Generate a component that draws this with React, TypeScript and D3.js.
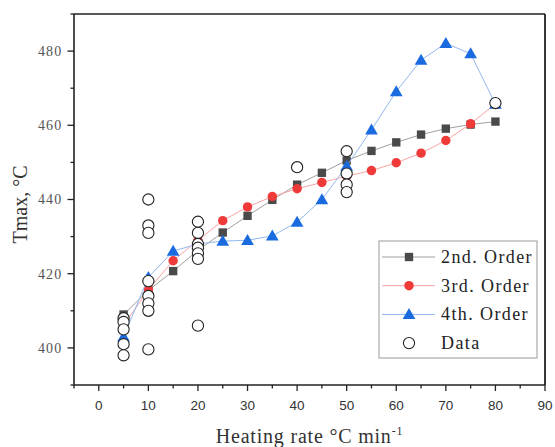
import React, { useRef, useEffect } from 'react';
import * as d3 from 'd3';

const rates = [5, 10, 15, 20, 25, 30, 35, 40, 45, 50, 55, 60, 65, 70, 75, 80];
const order2 = [409.0, 415.5, 420.7, 426.3, 431.1, 435.6, 439.9, 444.0, 447.2, 450.5, 453.1, 455.4, 457.5, 459.1, 460.2, 461.0];
const order3 = [406.0, 415.7, 423.5, 429.0, 434.3, 438.0, 440.8, 442.9, 444.6, 446.3, 447.8, 449.9, 452.5, 455.9, 460.4, 465.8];
const order4 = [403.0, 419.0, 426.1, 428.0, 428.8, 429.0, 430.2, 433.9, 440.0, 449.0, 458.8, 469.1, 477.6, 482.1, 479.3, 465.7];

const dataX = [5, 5, 5, 5, 5, 10, 10, 10, 10, 10, 10, 10, 10, 20, 20, 20, 20, 20, 20, 20, 40, 50, 50, 50, 50, 80];
const dataY = [408, 407, 405, 401, 398, 440, 433, 431, 418, 414, 412, 410, 399.6, 434, 431, 428, 427, 425.5, 424, 406, 448.7, 453, 447, 444, 442, 466];

const xTicks = [0, 10, 20, 30, 40, 50, 60, 70, 80, 90];
const yTicks = [400, 420, 440, 460, 480];
const legendLabels = ['2nd. Order', '3rd. Order', '4th. Order', 'Data'];

export default function App() {
    const svgRef = useRef<SVGSVGElement | null>(null);

    useEffect(() => {
        const width = 555;
        const height = 447;
        const left = 74, right = 545, top = 14, bottom = 385;

        d3.select(svgRef.current).selectAll('*').remove();
        const svg = d3.select(svgRef.current).attr('width', width).attr('height', height);

        const x = d3.scaleLinear().domain([-5, 90]).range([left, right]);
        const y = d3.scaleLinear().domain([390, 490]).range([bottom, top]);

        svg.append('rect').attr('width', width).attr('height', height).attr('fill', 'white');

        const series = [
            { values: order2, line: '#a0a0a0', fill: '#4a4a4a', shape: d3.symbolSquare, size: 70 },
            { values: order3, line: '#f7a3a3', fill: '#f03a3a', shape: d3.symbolCircle, size: 70 },
            { values: order4, line: '#92b8ee', fill: '#1a6be0', shape: d3.symbolTriangle, size: 70 },
        ];

        const line = d3.line<number>().x((_, i) => x(rates[i])).y((d) => y(d));

        series.forEach((s) => {
            svg.append('path')
                .attr('d', line(s.values))
                .attr('fill', 'none')
                .attr('stroke', s.line)
                .attr('stroke-width', 1);
            s.values.forEach((v, i) => {
                svg.append('path')
                    .attr('d', d3.symbol().type(s.shape).size(s.size)())
                    .attr('transform', `translate(${x(rates[i])},${y(v) + (s.shape === d3.symbolTriangle ? 1 : 0)})`)
                    .attr('fill', s.fill);
            });
        });

        dataX.forEach((d, i) => {
            svg.append('circle')
                .attr('cx', x(d))
                .attr('cy', y(dataY[i]))
                .attr('r', 5.6)
                .attr('fill', 'white')
                .attr('stroke', '#222')
                .attr('stroke-width', 1.1);
        });

        // frame
        svg.append('line').attr('x1', left).attr('x2', right).attr('y1', top).attr('y2', top)
            .attr('stroke', '#222').attr('stroke-width', 1.6);
        svg.append('line').attr('x1', right).attr('x2', right).attr('y1', top).attr('y2', bottom)
            .attr('stroke', '#222').attr('stroke-width', 1.8);

        // bottom axis
        svg.append('line').attr('x1', left).attr('x2', right).attr('y1', bottom).attr('y2', bottom)
            .attr('stroke', '#222').attr('stroke-width', 1.6);
        d3.range(-5, 91, 5).forEach((t) => {
            const major = t % 10 === 0;
            svg.append('line')
                .attr('x1', x(t)).attr('x2', x(t))
                .attr('y1', bottom).attr('y2', bottom + (major ? 6 : 3.5))
                .attr('stroke', '#222').attr('stroke-width', 1.3);
        });
        xTicks.forEach((t) => {
            svg.append('text')
                .attr('x', x(t))
                .attr('y', 409.5)
                .attr('text-anchor', 'middle')
                .attr('font-family', 'Liberation Sans, Arial, sans-serif')
                .attr('font-size', 13.5)
                .attr('fill', '#333')
                .text(t);
        });

        // left axis
        svg.append('line').attr('x1', left).attr('x2', left).attr('y1', top).attr('y2', bottom)
            .attr('stroke', '#222').attr('stroke-width', 1.6);
        d3.range(390, 491, 10).forEach((t) => {
            const major = t % 20 === 0;
            svg.append('line')
                .attr('x1', left).attr('x2', left - (major ? 6.5 : 3.5))
                .attr('y1', y(t)).attr('y2', y(t))
                .attr('stroke', '#222').attr('stroke-width', 1.3);
        });
        yTicks.forEach((t) => {
            svg.append('text')
                .attr('x', 62.5)
                .attr('y', y(t) + 4.8)
                .attr('text-anchor', 'end')
                .attr('font-family', 'Liberation Serif, Times New Roman, serif')
                .attr('font-size', 14)
                .attr('letter-spacing', 1.2)
                .attr('fill', '#555')
                .text(t);
        });

        // axis titles
        svg.append('text')
            .attr('transform', `translate(27,${(top + bottom) / 2 + 5}) rotate(-90)`)
            .attr('text-anchor', 'middle')
            .attr('font-family', 'Liberation Serif, Times New Roman, serif')
            .attr('font-size', 20)
            .attr('fill', '#333')
            .text('Tmax, °C');

        const xt = svg.append('text')
            .attr('x', (left + right) / 2)
            .attr('y', 443)
            .attr('text-anchor', 'middle')
            .attr('font-family', 'Liberation Serif, Times New Roman, serif')
            .attr('font-size', 20)
            .attr('letter-spacing', 0.8)
            .attr('fill', '#333');
        xt.append('tspan').text('Heating rate °C min');
        xt.append('tspan').attr('dy', -8).attr('font-size', 12).text('-1');

        // legend
        const lg = svg.append('g');
        lg.append('rect')
            .attr('x', 379).attr('y', 241).attr('width', 158).attr('height', 117)
            .attr('fill', 'white').attr('stroke', '#999').attr('stroke-width', 1);
        legendLabels.forEach((label, i) => {
            const ly = 257 + i * 28.7;
            if (i < 3) {
                const s = series[i];
                lg.append('line').attr('x1', 382).attr('x2', 435).attr('y1', ly).attr('y2', ly)
                    .attr('stroke', s.line).attr('stroke-width', 1);
                lg.append('path')
                    .attr('d', d3.symbol().type(s.shape).size(s.size)())
                    .attr('transform', `translate(409,${ly + (s.shape === d3.symbolTriangle ? 1 : 0)})`)
                    .attr('fill', s.fill);
            } else {
                lg.append('circle').attr('cx', 409).attr('cy', ly).attr('r', 5.6)
                    .attr('fill', 'white').attr('stroke', '#222').attr('stroke-width', 1.1);
            }
            lg.append('text')
                .attr('x', 441)
                .attr('y', ly + 6)
                .attr('font-family', 'Liberation Serif, Times New Roman, serif')
                .attr('font-size', 18)
                .attr('letter-spacing', 1.4)
                .attr('fill', '#222')
                .text(label);
        });
    }, []);

    return <svg ref={svgRef} style={{ position: 'absolute', left: 0, top: 0 }}></svg>;
}
